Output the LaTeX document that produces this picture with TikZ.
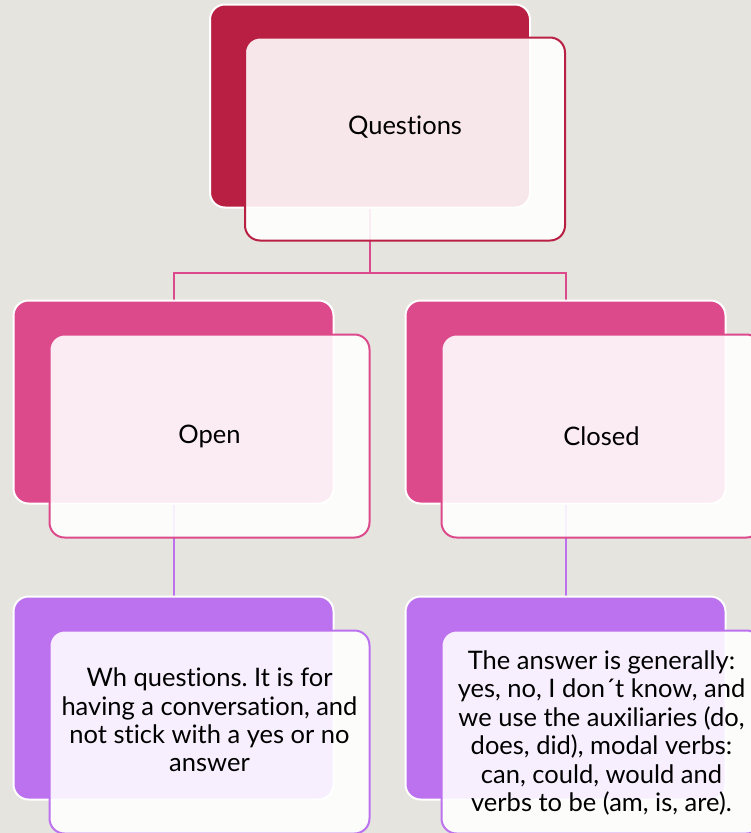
\documentclass[tikz,border=0pt]{standalone}
\usepackage{fontspec}
\setmainfont[Ligatures=NoCommon]{Lato}
\frenchspacing
\usetikzlibrary{backgrounds}
\definecolor{slidebg}{RGB}{230,228,223}
\definecolor{qred}{RGB}{185,31,67}
\definecolor{qpink}{RGB}{221,74,140}
\definecolor{qviolet}{RGB}{188,114,239}
\tikzset{
  back/.style={rectangle, fill=#1, draw=white, line width=2pt, rounded corners=15pt,
    minimum width=320pt, minimum height=203pt, inner sep=0pt},
  front/.style={rectangle, draw=#1, fill=white, fill opacity=0.89, line width=2pt,
    rounded corners=15pt, minimum width=320pt, minimum height=203pt, inner sep=0pt},
  txt/.style={font=\fontsize{25.5}{28.4}\selectfont, align=center, text=black, inner sep=0pt},
  link/.style={draw=#1, line width=2pt}
}
\begin{document}
\begin{tikzpicture}[x=1pt, y=-1pt]
  \useasboundingbox (0,0) rectangle (751,833);
  % back plates
  \node[back=qred] (qb) at (370,106) {};
  \node[back=qpink] (openb) at (173.5,402) {};
  \node[back=qpink] (closedb) at (565.5,402) {};
  \node[back=qviolet] (whb) at (173.5,698) {};
  \node[back=qviolet] (ansb) at (565.5,698) {};
  % front cards
  \node[front=qred] (q) at ([xshift=35pt, yshift=-33pt]qb.center) {};
  \node[front=qpink] (open) at ([xshift=36pt, yshift=-34pt]openb.center) {};
  \node[front=qpink] (closed) at ([xshift=36pt, yshift=-34pt]closedb.center) {};
  \node[front=qviolet] (wh) at ([xshift=36pt, yshift=-34pt]whb.center) {};
  \node[front=qviolet] (ans) at ([xshift=36pt, yshift=-34pt]ansb.center) {};
  % texts
  \node[txt] (q-text) at ([yshift=12pt]q.center) {Questions};
  \node[txt] (open-text) at (open.center) {Open};
  \node[txt] (closed-text) at (closed.center) {Closed};
  \node[txt] (wh-text) at ([yshift=12pt]wh.center)
    {Wh questions. It is for\\having a conversation, and\\not stick with a yes or no\\answer};
  \node[txt] (ans-text) at ([yshift=-1pt]ans.center)
    {The answer is generally:\\yes, no, I don\textasciiacute t know, and\\we use the auxiliaries (do,\\does, did), modal verbs:\\can, could, would and\\verbs to be (am, is, are).};
  % connectors behind the plates
  \begin{scope}[on background layer]
    \fill[slidebg] (0,0) rectangle (751,833);
    \draw[link=qpink] (qb.south) -- ++(0,64) -| (openb.north);
    \draw[link=qpink] (qb.south) -- ++(0,64) -| (closedb.north);
    \draw[link=qviolet] (openb.south) -- (whb.north);
    \draw[link=qviolet] (closedb.south) -- (ansb.north);
  \end{scope}
\end{tikzpicture}
\end{document}
